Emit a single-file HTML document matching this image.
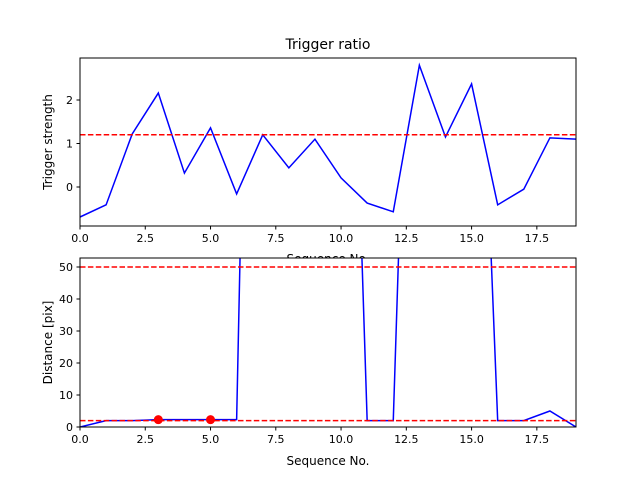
<!DOCTYPE html>
<html><head><meta charset="utf-8"><style>
body{margin:0;background:#fff}
svg text{font-family:"DejaVu Sans","Liberation Sans",sans-serif;fill:#000}
</style></head><body>
<svg id="c" width="640" height="480" viewBox="0 0 640 480">
<defs>
<clipPath id="clipTop"><rect x="80" y="58" width="496" height="168"/></clipPath>
<clipPath id="clipBot"><rect x="80" y="258" width="496" height="169"/></clipPath>
</defs>
<rect width="640" height="480" fill="#fff"/>
<text x="328" y="49" font-size="14" text-anchor="middle">Trigger ratio</text>
<g id="top"></g>
<g id="bot"></g>
</svg>
<script>
const seqX = [0,1,2,3,4,5,6,7,8,9,10,11,12,13,14,15,16,17,18,19];
const triggerStrength = [-0.69,-0.41,1.22,2.16,0.32,1.36,-0.16,1.2,0.44,1.1,0.21,-0.37,-0.57,2.8,1.15,2.37,-0.41,-0.05,1.13,1.1];
const triggerThreshold = 1.2;
const distance = [0,2,2,2.3,2.3,2.3,2.3,390,390,390,256,2,2,256,256,206,2,2,5,0];
const distThresholds = [50,2];
const markerX = [3,5];
const markerY = [2.3,2.3];
const xTicks = [0,2.5,5,7.5,10,12.5,15,17.5];
const topYTicks = [0,1,2];
const botYTicks = [0,10,20,30,40,50];

const NS="http://www.w3.org/2000/svg";
function mk(p,t,a){const e=document.createElementNS(NS,t);for(const k in a)e.setAttribute(k,a[k]);p.appendChild(e);return e;}
const X0=80,X1=576,xmin=0,xmax=19;
const sx=v=>X0+(v-xmin)/(xmax-xmin)*(X1-X0);

function axes(g,top,bot,sy,yt,ylabel,fmtY){
  const r=mk(g,'rect',{x:X0,y:top,width:X1-X0,height:bot-top,fill:'none',stroke:'#000','stroke-width':1});
  
  
  xTicks.forEach(t=>{
    const l=mk(g,'line',{x1:sx(t),x2:sx(t),y1:bot,y2:bot+3.5,stroke:'#000'});
    
    
    const tx=mk(g,'text',{x:sx(t),y:bot+16,'font-size':11,'text-anchor':'middle'});tx.textContent=t.toFixed(1);
    
    
  });
  yt.forEach(t=>{
    const l=mk(g,'line',{x1:X0-3.5,x2:X0,y1:sy(t),y2:sy(t),stroke:'#000'});
    
    
    const tx=mk(g,'text',{x:X0-7,y:sy(t)+4,'font-size':11,'text-anchor':'end'});tx.textContent=fmtY(t);
    
    
  });
  const yl=mk(g,'text',{x:0,y:0,'font-size':12,'text-anchor':'middle',transform:`translate(52,${(top+bot)/2}) rotate(-90)`});
  yl.textContent=ylabel;
  
  
}
function line(g,xs,ys,sy,clip){
  const p=mk(g,'polyline',{points:xs.map((x,i)=>sx(x)+','+sy(ys[i])).join(' '),fill:'none',stroke:'#0000ff','stroke-width':1.5,'clip-path':`url(#${clip})`});
  
  
}
function hline(g,v,sy){
  const l=mk(g,'line',{x1:X0,x2:X1,y1:sy(v),y2:sy(v),stroke:'#ff0000','stroke-width':1.5,'stroke-dasharray':'5.5,2.4'});
  
  
}
// top
const gt=document.getElementById('top');
const syT=v=>187-v*43.5;
const xl=mk(gt,'text',{x:328,y:263,'font-size':12,'text-anchor':'middle'});xl.textContent='Sequence No.';


line(gt,seqX,triggerStrength,syT,'clipTop');
hline(gt,triggerThreshold,syT);
axes(gt,58,226,syT,topYTicks,'Trigger strength',t=>String(t));
// bottom
const gb=document.getElementById('bot');
const bg=mk(gb,'rect',{x:X0,y:258,width:X1-X0,height:169,fill:'#fff'});


const syB=v=>427-v*3.2;
line(gb,seqX,distance,syB,'clipBot');
distThresholds.forEach(v=>hline(gb,v,syB));
markerX.forEach((x,i)=>{
  const c=mk(gb,'circle',{cx:sx(x),cy:syB(markerY[i]),r:4.5,fill:'#ff0000'});
  
  
});
axes(gb,258,427,syB,botYTicks,'Distance [pix]',t=>String(t));
const xl2=mk(gb,'text',{x:328,y:465,'font-size':12,'text-anchor':'middle'});xl2.textContent='Sequence No.';


</script>
</body></html>
